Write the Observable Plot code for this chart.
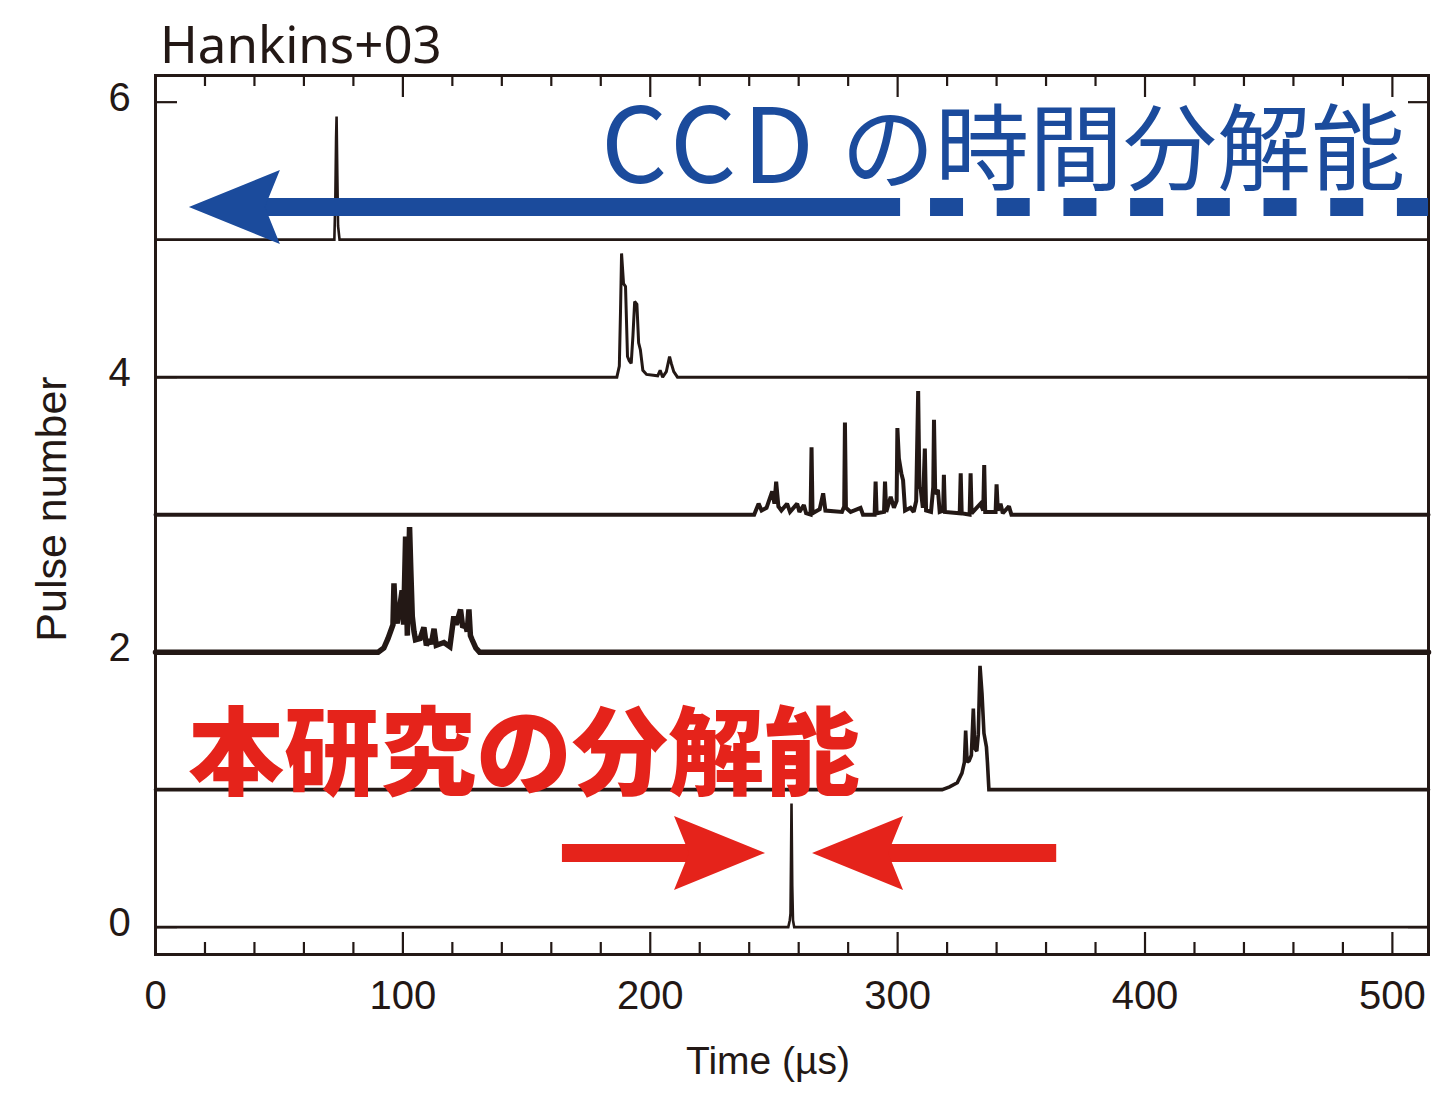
<!DOCTYPE html>
<html><head><meta charset="utf-8">
<script src="https://cdn.jsdelivr.net/npm/d3@7"></script>
<script src="https://cdn.jsdelivr.net/npm/@observablehq/plot@0.6"></script>
<style>body{margin:0;background:#fff}svg{display:block}</style>
</head><body><div id="chart"></div>
<script>
// ---- data (time µs, pulse-number offset) ----
const trace0 = [[0,0],[255.8,0],[256.4,0.05],[256.7,0.1],[256.9,0.485],[257.1,0.9],[257.4,0.3],[257.7,0.05],[258.2,0],[514.6,0]];
const trace1 = [[0,1],[318,1.0],[321,1.02],[324.1,1.05],[326,1.12],[327,1.2],[327.5,1.43],[328.1,1.2],[328.9,1.21],[329.8,1.25],[330.6,1.59],[331.2,1.3],[332,1.28],[332.6,1.4],[333.3,1.9],[334.1,1.7],[334.9,1.41],[335.9,1.31],[336.3,1.2],[336.9,1.0],[514.6,1]];
const trace2 = [[0,2],[90,2.0],[92.3,2.03],[94,2.1],[96,2.2],[96.4,2.5],[97,2.25],[97.7,2.21],[98.5,2.3],[99.7,2.45],[100.3,2.2],[101.1,2.84],[101.8,2.12],[102.2,2.5],[102.7,2.91],[103.2,2.6],[103.8,2.26],[104.5,2.15],[105.1,2.09],[107,2.1],[108.5,2.18],[109.5,2.05],[110.5,2.09],[111.5,2.06],[112.6,2.17],[113.5,2.05],[116.6,2.07],[119,2.04],[120.6,2.26],[121.5,2.2],[123.3,2.31],[124.2,2.18],[125.3,2.2],[126,2.15],[126.7,2.31],[127.3,2.12],[128,2.09],[129.5,2.03],[131,2.0],[514.6,2]];
const trace3 = [[0,3],[242,3.0],[243.8,3.08],[245,3.03],[247,3.05],[249.3,3.17],[250.2,3.08],[250.9,3.24],[251.8,3.06],[253,3.03],[255.3,3.08],[256.5,3.02],[259.4,3.08],[260.3,3.02],[262.1,3.07],[263,3.01],[264.8,3.0],[265.2,3.49],[265.6,3.01],[268.5,3.04],[269.9,3.155],[270.8,3.03],[277.5,3.02],[278.4,3.06],[278.7,3.67],[279.1,3.05],[281,3.02],[285,3.05],[286,3.0],[290.7,3.0],[291.1,3.24],[291.5,3.01],[294.5,3.02],[294.9,3.24],[295.4,3.02],[297.2,3.13],[298.5,3.05],[299.6,3.1],[299.9,3.63],[300.5,3.41],[301.5,3.3],[302.2,3.25],[303,3.03],[305.2,3.05],[306.5,3.02],[307.5,3.1],[308.3,3.9],[308.8,3.2],[309.3,3.19],[310.2,3.05],[311,3.48],[311.5,3.03],[313.5,3.02],[314.4,3.2],[314.7,3.69],[315.2,3.15],[316.3,3.18],[317,3.02],[318.4,3.03],[318.7,3.29],[319.1,3.02],[325.1,3.01],[325.5,3.3],[325.9,3.01],[329.1,3.0],[329.5,3.3],[329.9,3.01],[333.5,3.08],[334.6,3.03],[335,3.36],[335.4,3.02],[339.6,3.02],[340,3.22],[340.5,3.03],[341.6,3.08],[342.5,3.01],[345,3.06],[346,3.0],[514.6,3]];
const trace4 = [[0,4],[186.5,4.0],[187.5,4.08],[188,4.5],[188.4,4.9],[189.2,4.68],[190,4.66],[190.8,4.15],[191.5,4.12],[192.3,4.1],[193,4.3],[193.7,4.55],[194.6,4.53],[195.3,4.25],[196,4.2],[197,4.05],[198.5,4.02],[203,4.01],[204,4.05],[205,4.0],[206.5,4.04],[207.8,4.15],[208.5,4.1],[209.5,4.04],[211,4.0],[514.6,4]];
const trace5 = [[0,5],[72.3,5.0],[72.7,5.3],[73,5.74],[73.2,5.895],[73.5,5.47],[73.8,5.1],[74.4,5.0],[514.6,5]];
const traceWidths = [2.6, 3.6, 5.5, 4, 3, 2.6];
const xMajorTicks = [0,100,200,300,400,500];
const xMinorTicks = [20,40,60,80,120,140,160,180,220,240,260,280,320,340,360,380,420,440,460,480];
const yTicks = [0,2,4,6];
// annotation anchors (data units)
const ccdArrow = {tip:13.7, solidEnd:301.2, dashStart:313.3, dashEnd:514.6, y:5.234};
const redArrows = [{from:164.5, to:246.6, y:0.536},{from:364.3, to:265.6, y:0.536}];

const W=1433,H=1097,mL=155,mR=5,mT=75,mB=143;
const fW=W-mL-mR, fH=H-mT-mB;
const ink="#231815", blue="#1b4b9c", red="#e5231b";
const traces=[trace0,trace1,trace2,trace3,trace4,trace5];

const plot = Plot.plot({
  width:W, height:H, marginLeft:mL, marginRight:mR, marginTop:mT, marginBottom:mB,
  x:{domain:[0,514.6], axis:null},
  y:{domain:[-0.199,6.194], axis:null},
  style:{fontFamily:"'Liberation Sans', Arial, sans-serif", color:ink, background:"#fff"},
  marks:[
    ...traces.map((t,i)=>Plot.line(t,{x:d=>d[0], y:d=>d[1], stroke:ink, strokeWidth:traceWidths[i], strokeLinejoin:"miter", strokeMiterlimit:2})),
    Plot.tickX(xMinorTicks,{x:d=>d, insetTop:fH-12, stroke:ink, strokeWidth:2.2}),
    Plot.tickX(xMajorTicks,{x:d=>d, insetTop:fH-22, stroke:ink, strokeWidth:2.2}),
    Plot.tickX(xMinorTicks,{x:d=>d, insetBottom:fH-11, stroke:ink, strokeWidth:2.2}),
    Plot.tickX(xMajorTicks,{x:d=>d, insetBottom:fH-22, stroke:ink, strokeWidth:2.2}),
    Plot.tickY(yTicks,{y:d=>d, insetRight:fW-22, stroke:ink, strokeWidth:2.2}),
    Plot.tickY(yTicks,{y:d=>d, insetLeft:fW-20, stroke:ink, strokeWidth:2.2}),
    Plot.frame({stroke:ink, strokeWidth:3}),
    Plot.text(xMajorTicks,{x:d=>d, frameAnchor:"bottom", dy:42, text:d=>String(d), fontSize:40, fill:ink, lineAnchor:"middle"}),
    Plot.text(yTicks,{y:d=>d, frameAnchor:"left", dx:-36, dy:-4, text:d=>String(d), fontSize:40, fill:ink, textAnchor:"middle", lineAnchor:"middle"}),
    Plot.text(["Time (\u00b5s)"],{frameAnchor:"bottom", dx:-24, dy:107, text:d=>d, fontSize:39, fill:ink, lineAnchor:"middle", textAnchor:"middle"}),
    Plot.text(["Pulse number"],{frameAnchor:"left", dx:-103, dy:-6, rotate:-90, text:d=>d, fontSize:43, fill:ink, lineAnchor:"middle", textAnchor:"middle"})
  ]
});
document.getElementById("chart").appendChild(plot);

const sx = plot.scale("x").apply, sy = plot.scale("y").apply;
const svg = d3.select(plot);
const g = svg.append("g").attr("text-anchor","start");

// Title
g.append("text").attr("x",160).attr("y",63).attr("text-anchor","start").text("Hankins+03")
  .attr("font-family","'Noto Sans', sans-serif").attr("font-size",51).attr("fill",ink);

function arrowHead(tipX, y, dir, color){
  // dir = -1 points left, +1 points right
  const len=91, half=37, notch=76;
  const p=[[tipX,y],[tipX-dir*len,y-half],[tipX-dir*notch,y],[tipX-dir*len,y+half]];
  g.append("path").attr("d","M"+p.map(q=>q.join(",")).join("L")+"Z").attr("fill",color);
}
{
  const y=sy(ccdArrow.y), tx=sx(ccdArrow.tip);
  g.append("line").attr("x1",tx+70).attr("x2",sx(ccdArrow.solidEnd)).attr("y1",y).attr("y2",y)
    .attr("stroke",blue).attr("stroke-width",18);
  g.append("line").attr("x1",sx(ccdArrow.dashStart)).attr("x2",sx(ccdArrow.dashEnd)).attr("y1",y).attr("y2",y)
    .attr("stroke",blue).attr("stroke-width",18).attr("stroke-dasharray","33,33.7");
  arrowHead(tx,y,-1,blue);
}
{
  const t = g.append("text").attr("x",1405).attr("y",183).attr("text-anchor","end")
    .attr("font-family","'Noto Sans CJK JP', sans-serif").attr("font-size",94).attr("fill",blue);
  t.append("tspan").attr("font-size",104).attr("letter-spacing",6).text("CCD");
  t.append("tspan").attr("letter-spacing",0).text(" の時間分解能");
}

// Red
g.append("text").attr("x",188).attr("y",787).attr("text-anchor","start").text("本研究の分解能")
  .attr("font-family","'Noto Sans CJK JP', sans-serif").attr("font-weight",900).attr("font-size",96).attr("fill",red);
for(const a of redArrows){
  const y=sy(a.y), x1=sx(a.from), x2=sx(a.to), dir=Math.sign(x2-x1);
  g.append("line").attr("x1",x1).attr("x2",x2-dir*70).attr("y1",y).attr("y2",y)
    .attr("stroke",red).attr("stroke-width",18);
  arrowHead(x2,y,dir,red);
}
</script></body></html>
